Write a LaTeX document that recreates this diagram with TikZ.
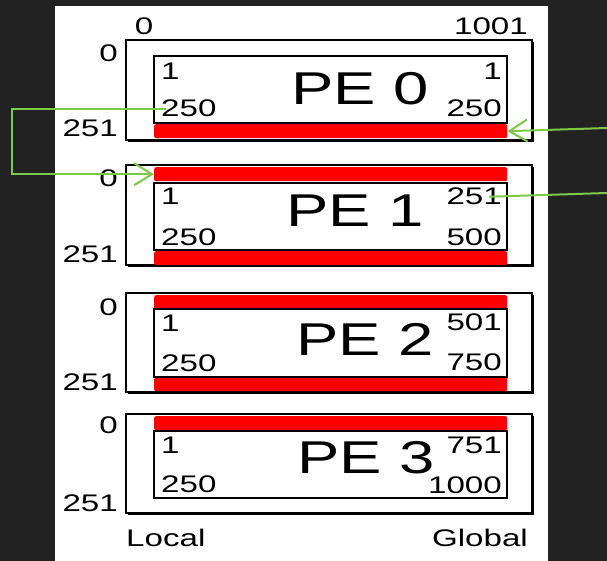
\documentclass[tikz,border=0pt]{standalone}
\usepackage{fontspec}
\setmainfont{Liberation Sans}[FakeStretch=1.38]
\usepackage{xcolor}
\usepackage{tikz}
\usetikzlibrary{arrows.meta}
\definecolor{slidebg}{RGB}{34,34,34}
\definecolor{linkgreen}{RGB}{125,200,70}
\tikzset{
	num/.style={inner sep=0pt,font=\fontsize{24}{24}\selectfont},
	pelabel/.style={inner sep=0pt,font=\fontsize{46}{46}\selectfont},
	outerbox/.style={draw=black,line width=2pt,fill=white},
	innerbox/.style={draw=black,line width=1.5pt},
	halo/.style={fill=red,rounded corners=2pt,inner sep=0pt,minimum width=353pt,minimum height=14pt,anchor=north west},
	link/.style={draw=linkgreen,line width=2pt},
	barb/.style={-{Straight Barb[length=18pt,width=22pt]}}
}

\begin{document}
\begin{tikzpicture}[x=1pt,y=-1pt]
	\useasboundingbox (0,0) rectangle (607,561);
	\fill[slidebg] (0,0) rectangle (607,561);
	\fill[white] (55,6) rectangle (548,561);
	% column heads
	\node[num,anchor=base] (head0) at (144,35) {0};
	\node[num,anchor=base east] (head1) at (528,35) {1001};
	% PE 0
	\fill[black] (128,42) rectangle (534,142);
	\draw[outerbox] (126,40) rectangle (532,140);
	\node[halo] (r0b) at (154,124) {};
	\draw[innerbox] (154,56) rectangle (507,123);
	\node[num,anchor=base west] (l0a) at (161,80) {1};
	\node[num,anchor=base west] (l0b) at (161,117) {250};
	\node[num,anchor=base east] (g0a) at (502,80) {1};
	\node[num,anchor=base east] (g0b) at (502,117) {250};
	\node[pelabel,anchor=base] (pe0) at (360,105) {PE 0};
	\node[num,anchor=base east] (t0) at (118,62) {0};
	\node[num,anchor=base east] (b0) at (118,137) {251};
	% PE 1
	\fill[black] (128,167) rectangle (534,267);
	\draw[outerbox] (126,165) rectangle (532,265);
	\node[halo] (r1t) at (154,167) {};
	\node[halo] (r1b) at (154,251) {};
	\draw[innerbox] (154,183) rectangle (507,250);
	\node[num,anchor=base west] (l1a) at (161,205) {1};
	\node[num,anchor=base west] (l1b) at (161,245) {250};
	\node[num,anchor=base east] (g1a) at (502,205) {251};
	\node[num,anchor=base east] (g1b) at (502,245) {500};
	\node[pelabel,anchor=base] (pe1) at (355,227) {PE 1};
	\node[num,anchor=base east] (t1) at (118,187) {0};
	\node[num,anchor=base east] (b1) at (118,262) {251};
	% PE 2
	\fill[black] (128,295) rectangle (534,394);
	\draw[outerbox] (126,293) rectangle (532,392);
	\node[halo] (r2t) at (154,295) {};
	\node[halo] (r2b) at (154,377) {};
	\draw[innerbox] (154,309) rectangle (507,377);
	\node[num,anchor=base west] (l2a) at (161,331) {1};
	\node[num,anchor=base west] (l2b) at (161,371) {250};
	\node[num,anchor=base east] (g2a) at (502,330) {501};
	\node[num,anchor=base east] (g2b) at (502,370) {750};
	\node[pelabel,anchor=base] (pe2) at (365,355) {PE 2};
	\node[num,anchor=base east] (t2) at (118,315) {0};
	\node[num,anchor=base east] (b2) at (118,390) {251};
	% PE 3
	\fill[black] (128,416) rectangle (534,515);
	\draw[outerbox] (126,414) rectangle (532,513);
	\node[halo] (r3t) at (154,416) {};
	\draw[innerbox] (154,431) rectangle (507,498);
	\node[num,anchor=base west] (l3a) at (161,453) {1};
	\node[num,anchor=base west] (l3b) at (161,492) {250};
	\node[num,anchor=base east] (g3a) at (502,453) {751};
	\node[num,anchor=base east] (g3b) at (502,493) {1000};
	\node[pelabel,anchor=base] (pe3) at (366,473) {PE 3};
	\node[num,anchor=base east] (t3) at (118,433) {0};
	\node[num,anchor=base east] (b3) at (118,511) {251};
	% axis names
	\node[num,anchor=base west] (local) at (126,546) {Local};
	\node[num,anchor=base east] (global) at (528,546) {Global};
	% halo exchange links
	\coordinate (feedA) at (607,128);
	\coordinate (feedB) at (607,193);
	\coordinate (loopturn) at (12,108);
	\draw[link,barb] (feedA) -- (r0b.east);
	\draw[link] (feedB) -- ([xshift=-13pt]g1a.east);
	\draw[link,barb] ([xshift=5pt]l0b.west) -- (l0b.west -| loopturn) |- (r1t.west);
\end{tikzpicture}
\end{document}
